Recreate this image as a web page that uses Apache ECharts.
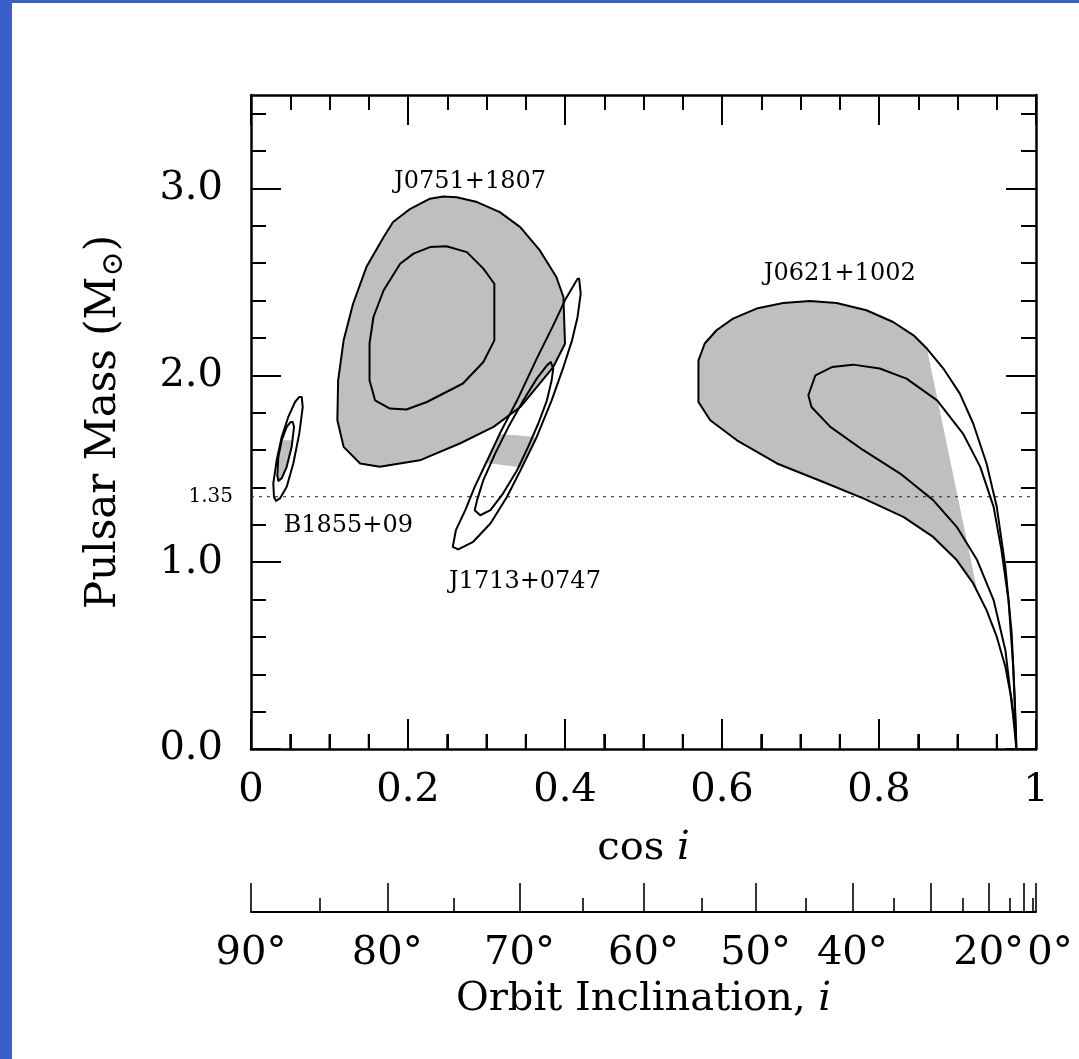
<!DOCTYPE html>
<html>
<head>
<meta charset="utf-8">
<script src="https://cdn.jsdelivr.net/npm/echarts@6/dist/echarts.min.js"></script>
<style>
html, body { margin: 0; padding: 0; background: #fff; }
#chart { width: 1079px; height: 1059px; }
</style>
</head>
<body>
<div id="chart"></div>
<script>
// Pulsar mass versus cos(i): confidence contours for four binary pulsars.
// Each contour is a list of [cos i, mass in solar masses].

const j0751Outer = [[0.110,1.759],[0.111,1.973],[0.118,2.187],[0.130,2.383],[0.147,2.579],[0.169,2.740],[0.181,2.820],[0.203,2.891],[0.228,2.945],[0.245,2.957],[0.262,2.953],[0.288,2.927],[0.317,2.873],[0.343,2.793],[0.368,2.668],[0.389,2.526],[0.398,2.419],[0.400,2.169],[0.385,2.044],[0.364,1.937],[0.343,1.830],[0.309,1.724],[0.266,1.635],[0.215,1.545],[0.164,1.510],[0.139,1.528],[0.118,1.617]];
const j0751Inner = [[0.151,2.170],[0.151,1.973],[0.158,1.866],[0.177,1.822],[0.198,1.817],[0.224,1.857],[0.270,1.956],[0.296,2.071],[0.310,2.187],[0.310,2.490],[0.296,2.571],[0.275,2.659],[0.249,2.691],[0.228,2.686],[0.207,2.651],[0.190,2.597],[0.169,2.455],[0.156,2.312]];

const j1713Outer = [[0.418,2.517],[0.420,2.437],[0.416,2.312],[0.409,2.187],[0.398,2.044],[0.383,1.866],[0.364,1.670],[0.345,1.506],[0.326,1.349],[0.305,1.207],[0.283,1.109],[0.264,1.068],[0.257,1.082],[0.261,1.171],[0.273,1.278],[0.285,1.403],[0.300,1.536],[0.317,1.688],[0.339,1.866],[0.364,2.089],[0.385,2.267],[0.401,2.410],[0.411,2.481],[0.416,2.517]];
const j1713Inner = [[0.382,2.071],[0.385,2.036],[0.383,1.973],[0.377,1.866],[0.366,1.742],[0.353,1.617],[0.339,1.492],[0.321,1.367],[0.305,1.278],[0.292,1.251],[0.285,1.278],[0.288,1.332],[0.296,1.439],[0.311,1.581],[0.328,1.724],[0.347,1.866],[0.364,1.982],[0.377,2.053]];
const j1713Shade = [[0.317,1.686],[0.364,1.670],[0.345,1.506],[0.300,1.530]];

const b1855Outer = [[0.0646,1.884],[0.0659,1.830],[0.0615,1.688],[0.0539,1.528],[0.0455,1.403],[0.0369,1.341],[0.0318,1.328],[0.0293,1.349],[0.0284,1.421],[0.0327,1.545],[0.0391,1.670],[0.0475,1.777],[0.0561,1.857],[0.0615,1.884]];
const b1855Inner = [[0.0531,1.750],[0.0548,1.724],[0.0518,1.617],[0.0455,1.510],[0.0391,1.448],[0.0348,1.435],[0.0335,1.465],[0.0348,1.563],[0.0391,1.652],[0.0455,1.724],[0.0506,1.750]];
const b1855Shade = [[0.0531,1.652],[0.0518,1.617],[0.0455,1.510],[0.0391,1.448],[0.0348,1.435],[0.0335,1.465],[0.0348,1.563],[0.0391,1.652]];

const j0621Outer = [[0.975,0.000],[0.973,0.262],[0.969,0.619],[0.961,0.975],[0.950,1.296],[0.937,1.528],[0.920,1.742],[0.903,1.902],[0.882,2.036],[0.861,2.143],[0.844,2.214],[0.818,2.285],[0.784,2.348],[0.746,2.387],[0.712,2.397],[0.678,2.387],[0.644,2.357],[0.614,2.303],[0.593,2.241],[0.578,2.170],[0.570,2.080],[0.570,1.857],[0.585,1.759],[0.619,1.652],[0.670,1.528],[0.729,1.429],[0.780,1.341],[0.831,1.242],[0.869,1.135],[0.899,1.011],[0.920,0.886],[0.937,0.743],[0.950,0.601],[0.961,0.440],[0.969,0.262],[0.974,0.084]];
const j0621Inner = [[0.975,0.000],[0.9745,0.084],[0.971,0.440],[0.965,0.797],[0.956,1.064],[0.946,1.296],[0.929,1.510],[0.907,1.688],[0.874,1.866],[0.835,1.982],[0.801,2.036],[0.767,2.057],[0.740,2.044],[0.719,2.000],[0.710,1.893],[0.714,1.830],[0.738,1.724],[0.780,1.599],[0.827,1.474],[0.869,1.332],[0.899,1.189],[0.925,1.011],[0.946,0.797],[0.961,0.529],[0.971,0.173]];
const j0621Shade = [[0.861,2.143],[0.844,2.214],[0.818,2.285],[0.784,2.348],[0.746,2.387],[0.712,2.397],[0.678,2.387],[0.644,2.357],[0.614,2.303],[0.593,2.241],[0.578,2.170],[0.570,2.080],[0.570,1.857],[0.585,1.759],[0.619,1.652],[0.670,1.528],[0.729,1.429],[0.780,1.341],[0.831,1.242],[0.869,1.135],[0.899,1.011],[0.920,0.886],[0.9255,0.840]];

// Canonical neutron star mass reference
const canonicalMass = 1.35;

const pulsarLabels = [
  { name: 'J0751+1807', at: [0.279, 3.037] },
  { name: 'J0621+1002', at: [0.750, 2.545] },
  { name: 'B1855+09',   at: [0.124, 1.193] },
  { name: 'J1713+0747', at: [0.349, 0.893] }
];

// Tick values
const cosMajorTicks = [0, 0.2, 0.4, 0.6, 0.8, 1];
const cosMinorTicks = [0.05, 0.1, 0.15, 0.25, 0.3, 0.35, 0.45, 0.5, 0.55, 0.65, 0.7, 0.75, 0.85, 0.9, 0.95];
const massMajorTicks = [0, 1, 2, 3];
const massMinorTicks = [0.2, 0.4, 0.6, 0.8, 1.2, 1.4, 1.6, 1.8, 2.2, 2.4, 2.6, 2.8, 3.2, 3.4];
const inclinationMajorTicks = [90, 80, 70, 60, 50, 40, 30, 20, 10, 0];
const inclinationMinorTicks = [85, 75, 65, 55, 45, 35, 25, 15, 5];
const inclinationLabels = [90, 80, 70, 60, 50, 40, 20, 0];

const FONT = '"DejaVu Serif", serif';
const SHADE = '#bfbfbf';
const INK = '#000';
const MASS_MAX = 3.5;
const PLOT_HEIGHT = 654;
const MAJOR_TICK_PX = 30;
const MINOR_TICK_PX = 15;
const toCos = deg => Math.cos(deg * Math.PI / 180);

function polygonSeries(points, fill, stroke, z) {
  return {
    type: 'custom',
    coordinateSystem: 'cartesian2d',
    xAxisIndex: 0,
    yAxisIndex: 0,
    silent: true,
    clip: false,
    z: z,
    data: points,
    renderItem: function (params, api) {
      if (params.dataIndex !== 0) return null;
      return {
        type: 'polygon',
        shape: { points: points.map(p => api.coord(p)) },
        style: {
          fill: fill || 'none',
          stroke: stroke || 'none',
          lineWidth: stroke ? 2 : 0,
          lineJoin: 'round'
        }
      };
    }
  };
}

// inward tick marks standing on the lower frame edge (mass = 0), on their own layer
const floorTicks = cosMajorTicks.map(v => ({ v: v, len: MAJOR_TICK_PX }))
  .concat(cosMinorTicks.map(v => ({ v: v, len: MINOR_TICK_PX })));

const floorTickSeries = {
  type: 'custom',
  coordinateSystem: 'cartesian2d',
  xAxisIndex: 0,
  yAxisIndex: 0,
  silent: true,
  clip: false,
  zlevel: 1,
  z: 10,
  data: j0751Outer,
  renderItem: function (params, api) {
    if (params.dataIndex !== 0) return null;
    return {
      type: 'group',
      children: floorTicks.map(t => {
        const p = api.coord([t.v, 0]);
        return {
          type: 'line',
          shape: { x1: p[0], y1: p[1], x2: p[0], y2: p[1] - t.len },
          style: { stroke: INK, lineWidth: 2 }
        };
      })
    };
  }
};

// the same ticks as mark lines, in mass units
const pxToMass = px => px * MASS_MAX / PLOT_HEIGHT;
const floorMarkSeries = {
  type: 'line',
  xAxisIndex: 0, yAxisIndex: 0,
  silent: true,
  zlevel: 1,
  z: 10,
  symbol: 'none',
  data: [],
  markLine: {
    silent: true,
    symbol: ['none', 'none'],
    label: { show: false },
    animation: false,
    lineStyle: { color: INK, width: 2, type: 'solid' },
    data: floorTicks.map(t => [{ coord: [t.v, 0] }, { coord: [t.v, pxToMass(t.len)] }])
  }
};

const labelSeries = {
  type: 'custom',
  coordinateSystem: 'cartesian2d',
  xAxisIndex: 0,
  yAxisIndex: 0,
  silent: true,
  clip: false,
  z: 6,
  data: pulsarLabels.map(l => l.at),
  renderItem: function (params, api) {
    const p = api.coord(pulsarLabels[params.dataIndex].at);
    return {
      type: 'text',
      x: p[0],
      y: p[1],
      style: {
        text: pulsarLabels[params.dataIndex].name,
        font: '24px ' + FONT,
        fill: INK,
        align: 'center',
        verticalAlign: 'middle'
      }
    };
  }
};

const frameLine = { show: true, onZero: false, lineStyle: { color: INK, width: 2.5 } };
const noLine = { show: false, onZero: false };
const tickStyle = { color: INK, width: 2 };

function tickOnlyX(position, offset, values, length, width) {
  return {
    type: 'value', position: position, offset: offset, min: 0, max: 1,
    axisLine: noLine,
    axisTick: { show: true, inside: true, length: length, customValues: values, lineStyle: { color: INK, width: width } },
    axisLabel: { show: false },
    splitLine: { show: false }
  };
}
function tickOnlyY(position, values, length) {
  return {
    type: 'value', position: position, min: 0, max: MASS_MAX,
    axisLine: noLine,
    axisTick: { show: true, inside: true, length: length, customValues: values, lineStyle: tickStyle },
    axisLabel: { show: false },
    splitLine: { show: false }
  };
}

const chart = echarts.init(document.getElementById('chart'), null, { renderer: 'canvas' });

chart.setOption({
  backgroundColor: '#fff',
  animation: false,
  grid: { left: 251, top: 95, width: 785, height: PLOT_HEIGHT, containLabel: false },
  xAxis: [
    {
      type: 'value', position: 'bottom', min: 0, max: 1,
      axisLine: frameLine,
      axisTick: { show: true, inside: true, length: MAJOR_TICK_PX, customValues: cosMajorTicks, lineStyle: tickStyle },
      axisLabel: { show: true, margin: 22, color: INK, fontSize: 40, fontFamily: FONT, customValues: cosMajorTicks },
      splitLine: { show: false },
      name: '{t|cos }{it|i}',
      nameLocation: 'middle',
      nameGap: 80,
      nameTextStyle: {
        rich: {
          t: { fontSize: 40, fontFamily: FONT, color: INK },
          it: { fontSize: 40, fontFamily: FONT, fontStyle: 'italic', color: INK }
        }
      }
    },
    {
      type: 'value', position: 'top', min: 0, max: 1,
      axisLine: frameLine,
      axisTick: { show: true, inside: true, length: MAJOR_TICK_PX, customValues: cosMajorTicks, lineStyle: tickStyle },
      axisLabel: { show: false },
      splitLine: { show: false }
    },
    tickOnlyX('top', 0, cosMinorTicks, MINOR_TICK_PX, 2),
    {
      // orbital inclination scale, linear in cos i
      type: 'value', position: 'bottom', offset: 163, min: 0, max: 1,
      axisLine: { show: true, onZero: false, lineStyle: { color: INK, width: 2 } },
      axisTick: {
        show: true, inside: true, length: 29,
        customValues: inclinationMajorTicks.map(toCos),
        lineStyle: { color: INK, width: 1.6 }
      },
      axisLabel: {
        show: true, margin: 22, color: INK, fontSize: 40, fontFamily: FONT,
        customValues: inclinationLabels.map(toCos),
        formatter: function (v) {
          const deg = Math.round(Math.acos(Math.min(1, v)) * 180 / Math.PI);
          return deg === 0 ? '{shift|0°}' : deg + '°';
        },
        rich: { shift: { fontSize: 40, fontFamily: FONT, color: INK, padding: [0, 0, 0, 28] } }
      },
      splitLine: { show: false },
      name: '{t|Orbit Inclination, }{it|i}',
      nameLocation: 'middle',
      nameGap: 68,
      nameTextStyle: {
        rich: {
          t: { fontSize: 40, fontFamily: FONT, color: INK },
          it: { fontSize: 40, fontFamily: FONT, fontStyle: 'italic', color: INK }
        }
      }
    },
    tickOnlyX('bottom', 163, inclinationMinorTicks.map(toCos), 14, 1.6)
  ],
  yAxis: [
    {
      type: 'value', position: 'left', min: 0, max: MASS_MAX,
      axisLine: frameLine,
      axisTick: { show: true, inside: true, length: MAJOR_TICK_PX, customValues: massMajorTicks, lineStyle: tickStyle },
      axisLabel: {
        show: true, margin: 28, color: INK, fontSize: 40, fontFamily: FONT,
        customValues: massMajorTicks,
        formatter: v => v.toFixed(1)
      },
      splitLine: { show: false }
    },
    tickOnlyY('left', massMinorTicks, MINOR_TICK_PX),
    {
      type: 'value', position: 'right', min: 0, max: MASS_MAX,
      axisLine: frameLine,
      axisTick: { show: true, inside: true, length: MAJOR_TICK_PX, customValues: massMajorTicks, lineStyle: tickStyle },
      axisLabel: { show: false },
      splitLine: { show: false }
    },
    tickOnlyY('right', massMinorTicks, MINOR_TICK_PX),
    {
      type: 'value', position: 'left', min: 0, max: MASS_MAX,
      axisLine: noLine,
      axisTick: { show: false },
      axisLabel: {
        show: true, margin: 18, color: INK, fontSize: 20, fontFamily: FONT,
        customValues: [canonicalMass],
        formatter: v => v.toFixed(2)
      },
      splitLine: { show: false }
    }
  ],
  graphic: [
    { type: 'rect', shape: { x: 0, y: 0, width: 12, height: 1059 }, style: { fill: '#3a5fcb' }, silent: true },
    { type: 'rect', shape: { x: 0, y: 0, width: 1079, height: 3 }, style: { fill: '#3a5fcb' }, silent: true },
    {
      type: 'text',
      x: 106, y: 422,
      rotation: Math.PI / 2,
      silent: true,
      style: {
        text: '{t|Pulsar Mass (M}{sub|⊙}{t|)}',
        align: 'center',
        verticalAlign: 'middle',
        rich: {
          t: { fontSize: 42, fontFamily: FONT, fill: INK, color: INK, lineHeight: 20, verticalAlign: 'top' },
          sub: { fontSize: 30, fontFamily: FONT, fill: INK, color: INK, lineHeight: 46, verticalAlign: 'bottom' }
        }
      }
    }
  ],
  series: [
    // shaded regions
    polygonSeries(j0751Outer, SHADE, null, 2),
    polygonSeries(j0621Shade, SHADE, null, 2),
    polygonSeries(j1713Shade, SHADE, null, 2),
    polygonSeries(b1855Shade, SHADE, null, 2),
    // canonical mass line
    {
      type: 'line',
      xAxisIndex: 0, yAxisIndex: 0,
      silent: true,
      z: 3,
      symbol: 'none',
      data: [[0, canonicalMass], [1, canonicalMass]],
      lineStyle: { color: '#222', width: 1.2, type: [3, 5] }
    },
    // contour outlines
    polygonSeries(j0751Outer, null, INK, 4),
    polygonSeries(j0751Inner, null, INK, 4),
    polygonSeries(j1713Outer, null, INK, 4),
    polygonSeries(j1713Inner, null, INK, 4),
    polygonSeries(b1855Outer, null, INK, 4),
    polygonSeries(b1855Inner, null, INK, 4),
    polygonSeries(j0621Outer, null, INK, 4),
    polygonSeries(j0621Inner, null, INK, 4),
    // lower frame ticks
    floorTickSeries,
    floorMarkSeries,
    labelSeries
  ]
});
</script>
</body>
</html>
